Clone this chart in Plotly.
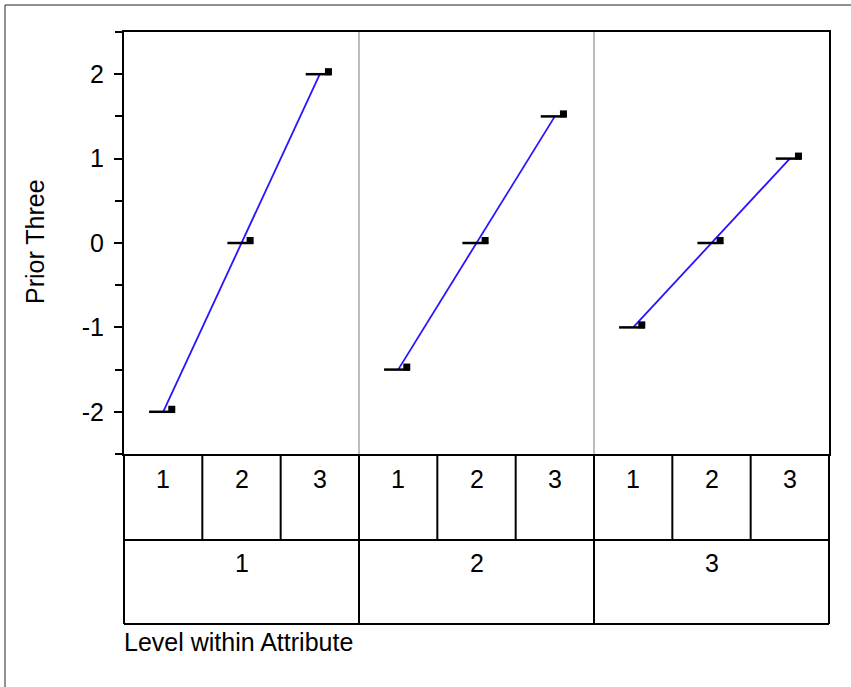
import plotly.graph_objects as go

# ---------------- data ----------------
attributes = ["1", "2", "3"]
levels = ["1", "2", "3"]
cell_means = [-2.0, 0.0, 2.0, -1.5, 0.0, 1.5, -1.0, 0.0, 1.0]
cell_points = [-1.97, 0.03, 2.03, -1.47, 0.03, 1.53, -0.97, 0.03, 1.03]
y_tick_vals = [-2, -1, 0, 1, 2]
y_tick_text = ["-2", "-1", "0", "1", "2"]
y_title = "Prior Three"
x_title = "Level within Attribute"

# ---------------- layout constants ----------------
W, H = 851, 687
L, R, T, B = 124, 829, 32, 454          # plot area in pixels
FONT = "Arial, Liberation Sans, sans-serif"
FS = 25
BLUE = "rgb(40,20,255)"

ncell = len(attributes) * len(levels)
xs = [i + 0.5 for i in range(ncell)]


def px_x(p):
    return (p - L) / (R - L)


def px_y(p):
    return (B - p) / (B - T)


fig = go.Figure()

# blue lines connecting cell means within each attribute
for g in range(len(attributes)):
    idx = list(range(g * len(levels), (g + 1) * len(levels)))
    fig.add_trace(go.Scatter(
        x=[xs[i] for i in idx], y=[cell_means[i] for i in idx],
        mode="lines", line=dict(color=BLUE, width=1.8),
        hoverinfo="skip", showlegend=False))

# mean segments
mx, my = [], []
for x, m in zip(xs, cell_means):
    mx += [x - 0.18, x + 0.15, None]
    my += [m, m, None]
fig.add_trace(go.Scatter(x=mx, y=my, mode="lines",
                         line=dict(color="black", width=2.5),
                         hoverinfo="skip", showlegend=False))

# individual points
fig.add_trace(go.Scatter(x=[x + 0.11 for x in xs], y=cell_points, mode="markers",
                         marker=dict(symbol="square", size=7, color="black"),
                         showlegend=False))

shapes = []
# group separators inside plot
for g in range(1, len(attributes)):
    xv = g * len(levels)
    shapes.append(dict(type="line", xref="x", yref="paper", x0=xv, x1=xv, y0=0, y1=1,
                       line=dict(color="#bdbdbd", width=2), layer="below"))

# table below
row1 = px_y(540)
row2 = px_y(624)
for yy in [row1, row2]:
    shapes.append(dict(type="line", xref="paper", yref="paper", x0=0, x1=1, y0=yy, y1=yy,
                       line=dict(color="black", width=2)))
for k in range(ncell + 1):
    xp = k / ncell
    bottom = row2 if k % len(levels) == 0 else row1
    shapes.append(dict(type="line", xref="paper", yref="paper", x0=xp, x1=xp, y0=0, y1=bottom,
                       line=dict(color="black", width=2)))

# outer frame (top and left)
shapes.append(dict(type="line", xref="paper", yref="paper", x0=px_x(5), x1=px_x(851),
                   y0=px_y(5), y1=px_y(5), line=dict(color="#222222", width=1)))
shapes.append(dict(type="line", xref="paper", yref="paper", x0=px_x(5), x1=px_x(5),
                   y0=px_y(5), y1=px_y(687), line=dict(color="#222222", width=1)))

annotations = []
for i, x in enumerate(xs):
    annotations.append(dict(x=x, xref="x", y=px_y(479), yref="paper", text=levels[i % len(levels)],
                            showarrow=False, font=dict(family=FONT, size=FS, color="black"),
                            xanchor="center", yanchor="middle"))
for g, a in enumerate(attributes):
    annotations.append(dict(x=(g + 0.5) * len(levels), xref="x", y=px_y(563), yref="paper", text=a,
                            showarrow=False, font=dict(family=FONT, size=FS, color="black"),
                            xanchor="center", yanchor="middle"))
annotations.append(dict(x=px_x(122), xref="paper", y=px_y(642), yref="paper", text=x_title,
                        showarrow=False, font=dict(family=FONT, size=FS, color="black"),
                        xanchor="left", yanchor="middle"))
annotations.append(dict(x=px_x(35), xref="paper", y=px_y(242), yref="paper", text=y_title,
                        textangle=-90, showarrow=False,
                        font=dict(family=FONT, size=FS, color="black"),
                        xanchor="center", yanchor="middle"))

fig.update_layout(
    width=W, height=H,
    margin=dict(l=L, r=W - R, t=T, b=H - B, pad=0),
    paper_bgcolor="white", plot_bgcolor="white",
    font=dict(family=FONT, size=FS, color="black"),
    shapes=shapes, annotations=annotations,
    showlegend=False,
    xaxis=dict(range=[0, ncell], showgrid=False, zeroline=False, showticklabels=False,
               ticks="", showline=True, linecolor="black", linewidth=2, mirror=True,
               fixedrange=True),
    yaxis=dict(range=[-2.5, 2.5], showgrid=False, zeroline=False,
               tickvals=y_tick_vals, ticktext=y_tick_text,
               ticks="outside", ticklen=8, tickwidth=2, tickcolor="black",
               ticklabelstandoff=5,
               minor=dict(dtick=0.5, tick0=0.5, ticks="outside", ticklen=7, tickwidth=2,
                          tickcolor="black", showgrid=False),
               showline=True, linecolor="black", linewidth=2, mirror=True,
               tickfont=dict(family=FONT, size=FS, color="black"),
               fixedrange=True),
)

fig.write_html(
    "out.html",
    config={"displayModeBar": False},
    post_script="document.body.style.margin='0';document.body.style.overflow='hidden';"
)
